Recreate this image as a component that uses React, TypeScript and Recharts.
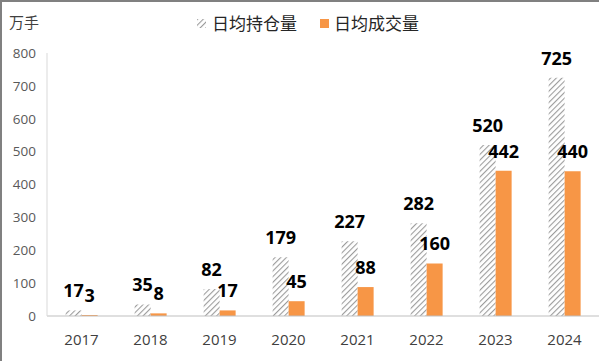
import { BarChart, Bar, XAxis, YAxis, LabelList } from "recharts";

const years = ["2017", "2018", "2019", "2020", "2021", "2022", "2023", "2024"];
const openInterest = [17, 35, 82, 179, 227, 282, 520, 725];
const volume = [3, 8, 17, 45, 88, 160, 442, 440];
const yTicks = [0, 100, 200, 300, 400, 500, 600, 700, 800];

const data = years.map((year, i) => ({
  year,
  oi: openInterest[i],
  vol: volume[i],
}));

const ORANGE = "#F79646";
const HATCH = "#9C9C9C";
const NUM_FONT = "'Open Sans', 'Noto Sans', sans-serif";
const CJK_FONT = "'Noto Sans CJK SC', 'Noto Sans', sans-serif";

function HatchIcon() {
  return (
    <svg width={9} height={9} style={{ display: "block" }}>
      <defs>
        <pattern id="hatchIcon" patternUnits="userSpaceOnUse" width={4} height={4} patternTransform="rotate(45)">
          <line x1={0} y1={0} x2={0} y2={4} stroke={HATCH} strokeWidth={2.2} />
        </pattern>
      </defs>
      <rect x={0} y={0} width={9} height={9} fill="url(#hatchIcon)" />
    </svg>
  );
}

// legend drawn as plain html so it does not push the plot down
function TopLegend() {
  return (
    <div
      style={{
        position: "absolute",
        left: 0,
        top: 12,
        width: 599,
        height: 30,
        fontFamily: CJK_FONT,
        fontSize: 17,
        color: "#262626",
      }}
    >
      <div style={{ position: "absolute", left: 197, top: 7 }}>
        <HatchIcon />
      </div>
      <span style={{ position: "absolute", left: 212, top: -2, whiteSpace: "nowrap" }}>日均持仓量</span>
      <div style={{ position: "absolute", left: 320, top: 7, width: 9, height: 9, background: ORANGE }} />
      <span style={{ position: "absolute", left: 334, top: -2, whiteSpace: "nowrap" }}>日均成交量</span>
    </div>
  );
}

export default function App() {
  return (
    <div style={{ position: "absolute", left: 0, top: 0, width: 599, height: 361, background: "#fff" }}>
      <div
        style={{
          position: "absolute",
          left: 9,
          top: 11,
          fontFamily: CJK_FONT,
          fontSize: 15,
          color: "#404040",
        }}
      >
        万手
      </div>
      <TopLegend />
      <BarChart
        width={599}
        height={361}
        data={data}
        margin={{ top: 53, right: 0, left: 0, bottom: 10 }}
        barCategoryGap="27%"
        barGap={0}
      >
        <defs>
          <pattern id="hatch" patternUnits="userSpaceOnUse" width={4} height={4} patternTransform="rotate(45)">
            <rect x={0} y={0} width={4} height={4} fill="#ffffff" />
            <line x1={0} y1={0} x2={0} y2={4} stroke={HATCH} strokeWidth={2.2} />
          </pattern>
        </defs>
        <XAxis
          dataKey="year"
          height={35}
          tickLine={false}
          axisLine={{ stroke: "#BFBFBF" }}
          tickMargin={12}
          tick={{ fontSize: 15, fill: "#404040", fontFamily: NUM_FONT }}
        />
        <YAxis
          width={47}
          domain={[0, 800]}
          ticks={yTicks}
          interval={0}
          tickLine={false}
          axisLine={{ stroke: "#D9D9D9" }}
          tickMargin={5}
          tick={{ fontSize: 13.5, fill: "#595959", fontFamily: NUM_FONT }}
        />
        <Bar dataKey="oi" fill="url(#hatch)" isAnimationActive={false}>
          <LabelList
            dataKey="oi"
            position="top"
            offset={13}
            style={{ fontSize: 18, fontWeight: 700, fill: "#000", fontFamily: NUM_FONT }}
          />
        </Bar>
        <Bar dataKey="vol" fill={ORANGE} isAnimationActive={false}>
          <LabelList
            dataKey="vol"
            position="top"
            offset={13}
            style={{ fontSize: 18, fontWeight: 700, fill: "#000", fontFamily: NUM_FONT }}
          />
        </Bar>
      </BarChart>
      <div
        style={{
          position: "absolute",
          left: 0,
          top: 0,
          width: 599,
          height: 361,
          boxSizing: "border-box",
          borderTop: "2px solid #808080",
          borderLeft: "2px solid #808080",
          pointerEvents: "none",
        }}
      />
    </div>
  );
}
